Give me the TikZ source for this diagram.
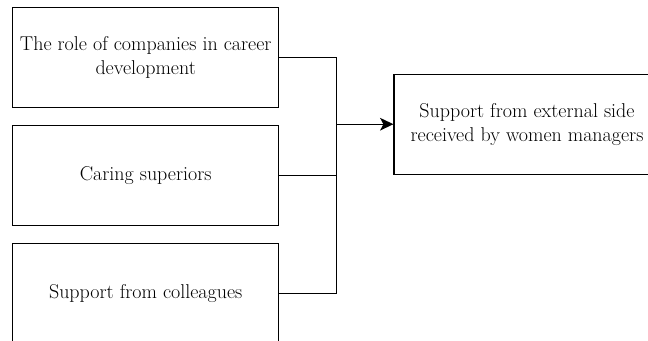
\documentclass[tikz,border=0pt]{standalone}
\usetikzlibrary{positioning,arrows.meta}

\begin{document}
\begin{tikzpicture}[x=0.75pt, y=-0.75pt, main/.style = {draw, rectangle, line width=0.9pt, minimum width=199.5pt, minimum height=75pt, inner sep=0pt, align=center, font=\rmfamily\fontsize{15}{18}\selectfont}, node distance={12.75pt}]
        \useasboundingbox (0,0) rectangle (648,340);
        \clip (0,0) rectangle (648,340);
        \node[main] (1) at (145.7,57.3) {The role of companies in career\\development};
        \node[main] (2) [below=of 1] {Caring superiors};
        \node[main] (3) [below=of 2] {Support from colleagues};
        \node[main] (4) at (527,124.2) {Support from external side\\received by women managers};
        \coordinate (j) at (336.7,124.2);
        \draw[line width=0.9pt] (1) -| (j);
        \draw[line width=0.9pt] (2) -| (j);
        \draw[line width=0.9pt] (3) -| (j);
        \draw[-{Stealth[length=10pt, width=9.5pt, inset=2.5pt]}, line width=0.9pt] (j) -- (4);
    \end{tikzpicture}
\end{document}
